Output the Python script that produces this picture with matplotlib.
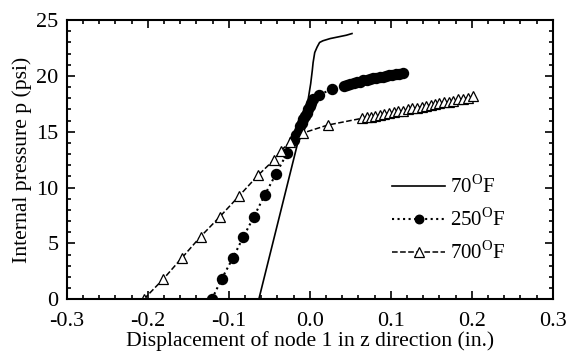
import matplotlib.pyplot as plt
from matplotlib.ticker import MultipleLocator

plt.rcParams['font.family'] = ['Liberation Serif', 'DejaVu Serif']
plt.rcParams['mathtext.fontset'] = 'custom'
plt.rcParams['mathtext.rm'] = 'Liberation Serif'
plt.rcParams['axes.unicode_minus'] = False

# 70 F
x70 = [-0.063, -0.003, 0.001, 0.003, 0.004, 0.006, 0.009, 0.012, 0.016, 0.025, 0.035, 0.045, 0.052]
y70 = [0.0, 17.5, 19.3, 20.5, 21.2, 22.1, 22.6, 23.0, 23.15, 23.35, 23.5, 23.65, 23.8]

# 250 F
x250 = [-0.121, -0.109, -0.095, -0.082, -0.069, -0.056, -0.042, -0.028,
        -0.020, -0.017, -0.014, -0.012, -0.010, -0.008, -0.006, -0.004,
        -0.002, 0.000, 0.002, 0.004, 0.011, 0.027, 0.042, 0.046, 0.050,
        0.054, 0.058, 0.062, 0.066, 0.070, 0.074, 0.078, 0.082, 0.086,
        0.090, 0.094, 0.098, 0.102, 0.106, 0.110, 0.115]
y250 = [0.0, 1.8, 3.7, 5.6, 7.4, 9.3, 11.2, 13.1,
        14.3, 14.7, 15.1, 15.5, 15.8, 16.1, 16.4, 16.7,
        17.0, 17.3, 17.6, 17.9, 18.3, 18.8, 19.1, 19.2, 19.3,
        19.35, 19.45, 19.5, 19.6, 19.65, 19.7, 19.8, 19.85, 19.9,
        19.95, 20.0, 20.05, 20.1, 20.15, 20.2, 20.3]

# 700 F
x700 = [-0.205, -0.181, -0.158, -0.135, -0.111, -0.088, -0.064, -0.044,
        -0.036, -0.024, -0.008, 0.022, 0.064, 0.070, 0.075, 0.081, 0.087,
        0.092, 0.098, 0.104, 0.109, 0.115, 0.121, 0.126, 0.132, 0.138,
        0.143, 0.149, 0.155, 0.160, 0.166, 0.172, 0.177, 0.183, 0.189,
        0.195, 0.201]
y700 = [0.0, 1.8, 3.7, 5.6, 7.4, 9.2, 11.1, 12.5,
        13.3, 14.1, 14.9, 15.6, 16.2, 16.3, 16.35, 16.45, 16.5,
        16.6, 16.7, 16.75, 16.85, 16.9, 17.0, 17.1, 17.15, 17.25,
        17.3, 17.4, 17.5, 17.55, 17.65, 17.7, 17.8, 17.9, 17.95,
        18.05, 18.2]

fig = plt.figure(figsize=(5.67, 3.6), dpi=100)
ax = fig.add_axes([0.118, 0.169, 0.857, 0.775])

ax.plot(x70, y70, color='black', linestyle='-', linewidth=1.2,
        label='70$^{\\mathrm{O}}$F')
ax.plot(x250, y250, color='black', linestyle=':', linewidth=1.5,
        marker='o', markersize=7.2, markerfacecolor='black',
        label='250$^{\\mathrm{O}}$F')
ax.plot(x700, y700, color='black', linestyle='--', linewidth=1.1,
        marker='^', markersize=7.8, markerfacecolor='white',
        markeredgewidth=0.9, label='700$^{\\mathrm{O}}$F')

ax.set_xlim(-0.3, 0.3)
ax.set_ylim(0, 25)
ax.xaxis.set_major_locator(MultipleLocator(0.1))
ax.xaxis.set_minor_locator(MultipleLocator(0.02))
ax.yaxis.set_major_locator(MultipleLocator(5))
ax.yaxis.set_minor_locator(MultipleLocator(1))
ax.tick_params(which='both', direction='in', top=True, right=True,
               labelsize=16, width=1.2)
ax.tick_params(which='major', length=6)
ax.tick_params(which='minor', length=3)
ax.tick_params(axis='x', which='major', pad=9.5)
ax.tick_params(axis='y', which='major', pad=6)
for s in ax.spines.values():
    s.set_linewidth(1.5)

ax.set_xlabel('Displacement of node 1 in z direction (in.)', fontsize=15.6, labelpad=0)
ax.set_ylabel('Internal pressure p (psi)', fontsize=15.6, labelpad=3)

ax.legend(loc='center left', bbox_to_anchor=(0.669, 0.285), frameon=False,
          fontsize=15, handlelength=2.55, labelspacing=0.5, handletextpad=0.25,
          borderpad=0, borderaxespad=0, markerscale=0.85)

fig.savefig('out.png', dpi=100)
